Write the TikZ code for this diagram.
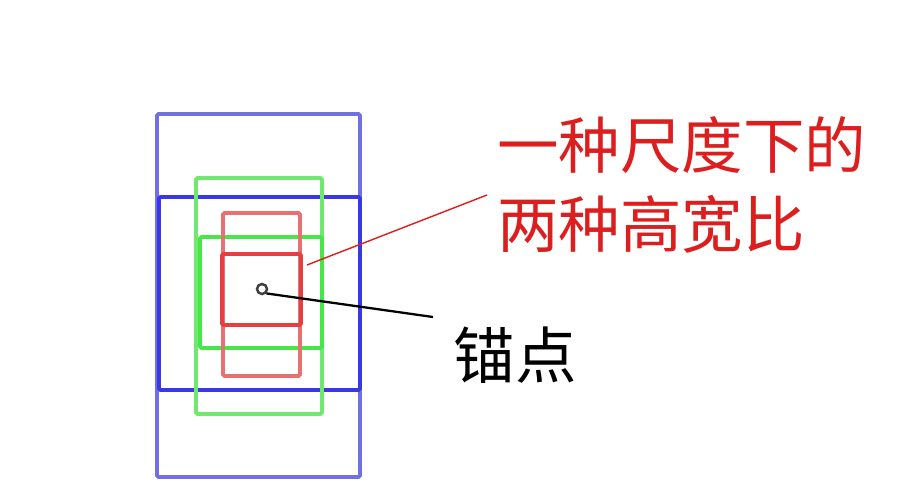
\documentclass[tikz,border=0pt]{standalone}
\usepackage{fontspec}
\newfontfamily\cjk{Noto Sans CJK SC}
\definecolor{bluetall}{RGB}{112,112,228}
\definecolor{bluewide}{RGB}{56,56,228}
\definecolor{greentall}{RGB}{112,232,112}
\definecolor{greenwide}{RGB}{72,230,72}
\definecolor{redtall}{RGB}{232,112,112}
\definecolor{redwide}{RGB}{228,64,64}
\definecolor{labelred}{RGB}{220,30,30}
\begin{document}
\begin{tikzpicture}[x=0.02cm,y=-0.02cm,
	box/.style={line width=2.1pt, rounded corners=0.8pt},
	label/.style={font=\cjk\fontsize{35}{45}\selectfont, inner sep=0pt, align=left}]
		\useasboundingbox (0,0) rectangle (915,501);
		
		\draw[box, bluetall] (157,114) rectangle (360,477);
		\draw[box, bluewide] (159,197) rectangle (360,390);
		\draw[box, greentall] (196,178) rectangle (322,414);
		\draw[box, greenwide] (200,237) rectangle (322,348);
		\draw[box, redtall] (223,213) rectangle (300,376);
		\draw[box, redwide] (222,254) rectangle (301,325);
		
		\node[circle, draw=black!75, line width=1.4pt, minimum size=0.2cm, inner sep=0pt] at (262,289) (anchor) {};
		\node[label, text=labelred, anchor=west] at (497,185) (ratio) {一种尺度下的\\两种高宽比};
		\node[label, anchor=center] at (515,355) (anchorlbl) {锚点};
		
		\coordinate (redend) at (307,265);
		\coordinate (redtip) at (487,195);
		\coordinate (blackend) at (433,317);
		\draw[labelred, line width=0.8pt] (redend) -- (redtip);
		\draw[black, line width=1.3pt] (anchor.south east) -- (blackend);
		\end{tikzpicture}
\end{document}
